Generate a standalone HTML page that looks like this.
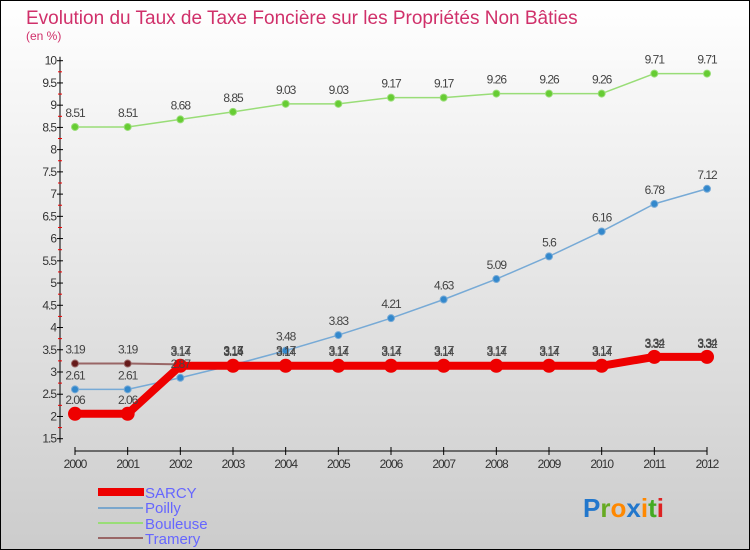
<!DOCTYPE html>
<html><head><meta charset="utf-8"><style>
html,body{margin:0;padding:0;width:750px;height:550px;overflow:hidden}
svg{display:block;font-family:"Liberation Sans",sans-serif}
</style></head><body>
<svg id="c" width="750" height="550" xmlns="http://www.w3.org/2000/svg">
<defs><linearGradient id="bg" x1="0" y1="0" x2="0" y2="1"><stop offset="0" stop-color="#ffffff"/><stop offset="1" stop-color="#cccccc"/></linearGradient></defs>
<rect x="0.5" y="0.5" width="749" height="549" fill="url(#bg)" stroke="#000"/>
<text x="26" y="24" font-size="19" fill="#d0306a">Evolution du Taux de Taxe Foncière sur les Propriétés Non Bâties</text>
<text x="26" y="40" font-size="12" fill="#d0306a">(en %)</text>
<g id="axes"></g><g id="series"></g><g id="labels"></g>
<g>
<rect x="98" y="488" width="46" height="8" fill="#ee0000"/>
<text x="145" y="498" font-size="15" fill="#6666ff">SARCY</text>
<line x1="98" y1="508" x2="143" y2="508" stroke="#7aa6cc" stroke-width="2"/>
<text x="145" y="513" font-size="15" fill="#6666ff">Poilly</text>
<line x1="98" y1="523" x2="143" y2="523" stroke="#99dd77" stroke-width="2"/>
<text x="145" y="529" font-size="15" fill="#6666ff">Bouleuse</text>
<line x1="98" y1="538" x2="143" y2="538" stroke="#996666" stroke-width="2"/>
<text x="145" y="544" font-size="15" fill="#6666ff">Tramery</text>
</g>
<text x="583" y="517" font-size="26" font-weight="bold"><tspan fill="#2277cc">P</tspan><tspan fill="#66aa22">r</tspan><tspan fill="#ff8800">o</tspan><tspan fill="#2277cc">x</tspan><tspan fill="#ff8800">i</tspan><tspan fill="#44aa22">t</tspan><tspan fill="#dd2222">i</tspan></text>
</svg>
<script>
const years=["2000","2001","2002","2003","2004","2005","2006","2007","2008","2009","2010","2011","2012"];
const yTicks=[1.5,2,2.5,3,3.5,4,4.5,5,5.5,6,6.5,7,7.5,8,8.5,9,9.5,10];
const sarcy=[2.06,2.06,3.14,3.14,3.14,3.14,3.14,3.14,3.14,3.14,3.14,3.34,3.34];
const poilly=[2.61,2.61,2.87,3.16,3.48,3.83,4.21,4.63,5.09,5.6,6.16,6.78,7.12];
const bouleuse=[8.51,8.51,8.68,8.85,9.03,9.03,9.17,9.17,9.26,9.26,9.26,9.71,9.71];
const tramery=[3.19,3.19,3.17,3.17,3.17,3.17,3.17,3.17,3.17,3.17,3.17,3.32,3.32];
const NS="http://www.w3.org/2000/svg";
const x0=75,x1=707,yTop=60.7,yBot=438.7,vMin=1.5,vMax=10;
function xs(i){return x0+i*(x1-x0)/(years.length-1);}
function ys(v){return yBot-(v-vMin)*(yBot-yTop)/(vMax-vMin);}
function mk(t,a,p){const e=document.createElementNS(NS,t);for(const k in a)e.setAttribute(k,a[k]);p.appendChild(e);return e;}
const ax=document.getElementById('axes');
let yl=mk('line',{x1:60,y1:yTop-4,x2:60,y2:yBot+4,stroke:'#000'},ax);


yTicks.forEach(v=>{
 const y=ys(v);
 mk('line',{x1:57,y1:y,x2:63,y2:y,stroke:'#000'},ax);
 if(v<10){const m=mk('line',{x1:58,y1:ys(v+0.25),x2:62,y2:ys(v+0.25),stroke:'#ee0000'},ax);}
 const t=mk('text',{x:56,y:y+4,'font-size':12,'text-anchor':'end',fill:'#333','letter-spacing':'-1'},ax);
 t.textContent=String(v);
 
 
});
let xl=mk('line',{x1:x0,y1:451,x2:x1,y2:451,stroke:'#000'},ax);


years.forEach((yr,i)=>{
 mk('line',{x1:xs(i),y1:447,x2:xs(i),y2:455,stroke:'#000'},ax);
 const t=mk('text',{x:xs(i),y:468,'font-size':12,'text-anchor':'middle',fill:'#333','letter-spacing':'-1'},ax);
 t.textContent=yr;
 
 
});
const sg=document.getElementById('series'),lg=document.getElementById('labels');
function draw(name,vals,col,dot,w,r){
 const pts=vals.map((v,i)=>xs(i)+','+ys(v)).join(' ');
 const pl=mk('polyline',{points:pts,fill:'none',stroke:col,'stroke-width':w,'stroke-linejoin':'round'},sg);
 
 
 vals.forEach((v,i)=>{
  const c=mk('circle',{cx:xs(i),cy:ys(v),r:r,fill:dot,stroke:col,'stroke-width':1},sg);
  
  
  const t=mk('text',{x:xs(i),y:ys(v)-10,'font-size':12,'text-anchor':'middle',fill:'#444','letter-spacing':'-1'},lg);
  t.textContent=String(v);
  
  
 });
}
draw('bouleuse',bouleuse,'#99dd77','#66cc33',1.5,3.5);
draw('poilly',poilly,'#77aad6','#3388cc',1.5,3.5);
draw('tramery',tramery,'#996666','#661a1a',2,3.5);
draw('sarcy',sarcy,'#ee0000','#ee0000',8,6.5);
</script>
</body></html>
